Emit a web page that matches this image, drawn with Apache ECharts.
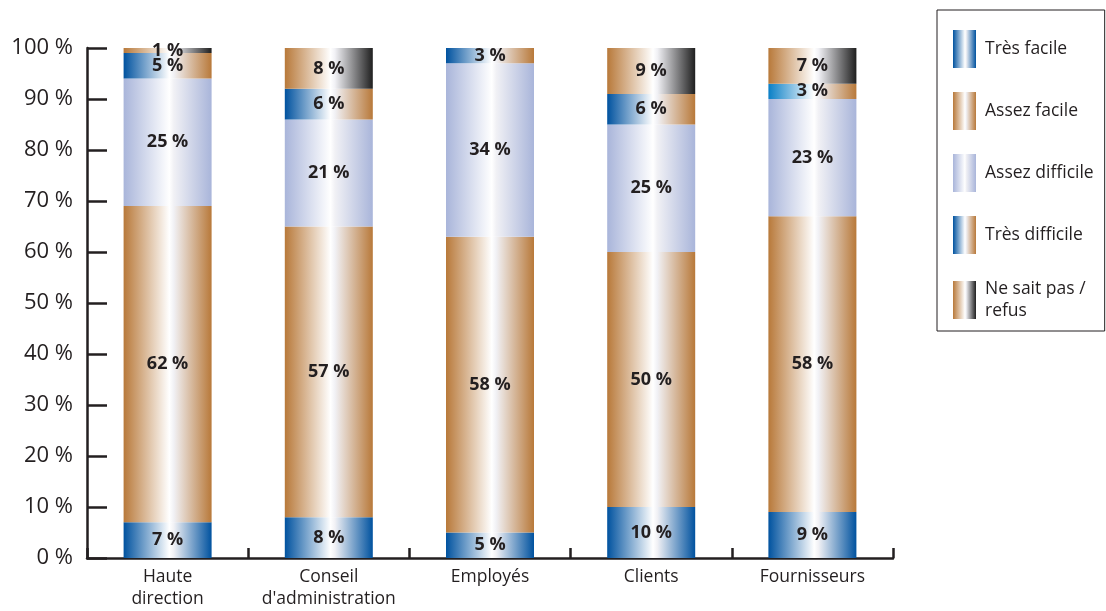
<!DOCTYPE html>
<html>
<head>
<meta charset="utf-8">
<script src="https://cdn.jsdelivr.net/npm/echarts@6/dist/echarts.min.js"></script>
<style>
  html, body { margin: 0; padding: 0; background: #fff; }
  #chart { width: 1106px; height: 611px; }
</style>
</head>
<body>
<div id="chart"></div>
<script>
// Categories and answer shares (%) per group, stacked bottom to top
const categories = ['Haute\ndirection', 'Conseil\nd\'administration', 'Employés', 'Clients', 'Fournisseurs'];
const seriesNames = ['Très facile', 'Assez facile', 'Assez difficile', 'Très difficile', 'Ne sait pas /\nrefus'];
const tresFacile     = [7, 8, 5, 10, 9];
const assezFacile    = [62, 57, 58, 50, 58];
const assezDifficile = [25, 21, 34, 25, 23];
const tresDifficile  = [5, 6, 3, 6, 3];
const neSaitPas      = [1, 8, 0, 9, 7];
const yTicks = [0, 10, 20, 30, 40, 50, 60, 70, 80, 90, 100];

const INK = '#231f20';
const FONT = '"Open Sans", "Noto Sans", sans-serif';

// Horizontal "metallic" gradient: left colour -> white highlight -> right colour
function grad(left, right) {
  return new echarts.graphic.LinearGradient(0, 0, 1, 0, [
    { offset: 0, color: left },
    { offset: 0.52, color: '#ffffff' },
    { offset: 0.57, color: '#f1f1f5' },
    { offset: 1, color: right }
  ]);
}

const BLUE = '#00529f';
const BROWN = '#b8793a';
const LAVENDER = '#a9b5da';
const DARK = '#1f1f1f';

const styles = [
  grad(BLUE, BLUE),
  grad(BROWN, BROWN),
  grad(LAVENDER, LAVENDER),
  grad(BLUE, BROWN),
  grad(BROWN, DARK)
];
const seriesData = [tresFacile, assezFacile, assezDifficile, tresDifficile, neSaitPas];

const series = seriesData.map((vals, s) => ({
  name: seriesNames[s],
  type: 'bar',
  stack: 'total',
  barWidth: 88,
  itemStyle: { color: styles[s] },
  label: {
    show: true,
    position: 'inside',
    color: INK,
    fontFamily: FONT,
    fontWeight: 'bold',
    fontSize: 18,
    formatter: p => (p.value ? p.value + ' %' : '')
  },
  data: vals.map((v, i) =>
    // the supplier row uses a brighter blue on its "très difficile" segment
    (s === 3 && i === 4) ? { value: v, itemStyle: { color: grad('#0a7fc6', BROWN) } } : v
  )
}));

const chart = echarts.init(document.getElementById('chart'), null, { renderer: 'canvas' });
chart.setOption({
  backgroundColor: '#ffffff',
  animation: false,
  grid: { left: 87, right: 213, top: 48, bottom: 53, containLabel: false },
  legend: {
    orient: 'vertical',
    left: 937,
    top: 10,
    padding: [20, 11, 9, 16],
    itemGap: 24,
    itemWidth: 23,
    itemHeight: 38,
    icon: 'rect',
    borderColor: INK,
    borderWidth: 1,
    textStyle: { color: INK, fontFamily: FONT, fontSize: 17.5, lineHeight: 22, padding: [0, 0, 0, 4] },
    data: seriesNames
  },
  xAxis: {
    type: 'category',
    data: categories,
    axisLine: { lineStyle: { color: INK, width: 2.5 } },
    axisTick: { show: true, inside: true, length: 10, lineStyle: { color: INK, width: 2.5 } },
    axisLabel: { color: INK, fontFamily: FONT, fontSize: 17.5, lineHeight: 22, margin: 8, interval: 0 }
  },
  yAxis: {
    type: 'value',
    min: yTicks[0],
    max: yTicks[yTicks.length - 1],
    interval: yTicks[1] - yTicks[0],
    splitLine: { show: false },
    axisLine: { show: true, lineStyle: { color: INK, width: 2.5 } },
    axisTick: { show: true, inside: true, length: 20, lineStyle: { color: INK, width: 2.5 } },
    axisLabel: { color: INK, fontFamily: FONT, fontSize: 22, margin: 14, padding: [0, 0, 10, 0], formatter: '{value} %' }
  },
  series: series
});
</script>
</body>
</html>
